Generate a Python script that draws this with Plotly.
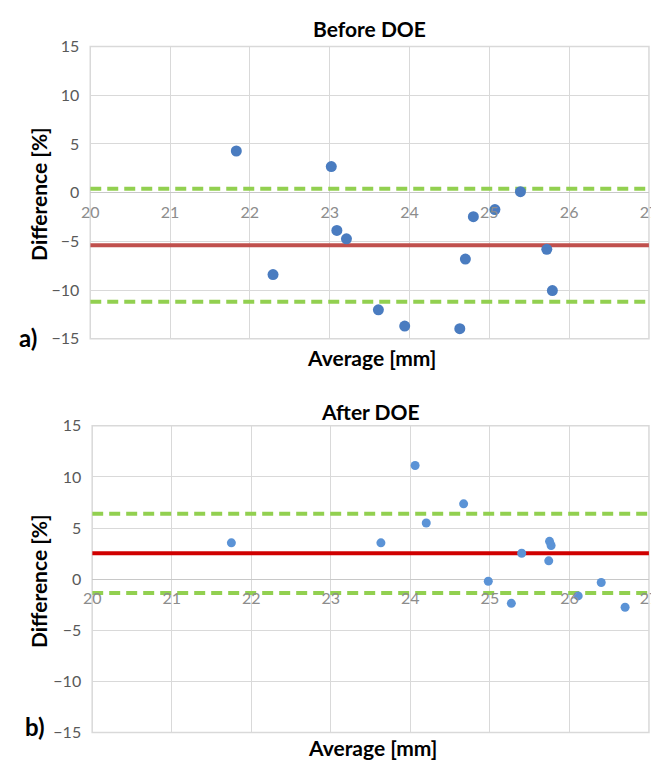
import plotly.graph_objects as go

# ---- data ----
before_avg = [21.83, 22.29, 23.02, 23.09, 23.21, 23.61, 23.94, 24.63, 24.70, 24.80, 25.07, 25.39, 25.72, 25.79]
before_diff = [4.28, -8.41, 2.68, -3.87, -4.74, -12.02, -13.69, -13.96, -6.81, -2.46, -1.73, 0.10, -5.81, -10.05]
before_mean = -5.4
before_loa = [0.4, -11.2]

after_avg = [21.75, 23.63, 24.06, 24.20, 24.67, 24.98, 25.27, 25.40, 25.75, 25.77, 25.74, 26.11, 26.40, 26.70]
after_diff = [3.55, 3.55, 11.12, 5.49, 7.37, -0.21, -2.37, 2.53, 3.70, 3.29, 1.79, -1.64, -0.33, -2.75]
after_mean = 2.53
after_loa = [6.41, -1.35]

x_ticks = [20, 21, 22, 23, 24, 25, 26, 27]
y_ticks = [-15, -10, -5, 0, 5, 10, 15]
titles = ["Before DOE", "After DOE"]
panel_labels = ["a)", "b)"]
x_title = "Average [mm]"
y_title = "Difference [%]"

FONT = "Lato, 'Open Sans', sans-serif"
W, H = 659, 762

top_x = [75.3 / W, 649.7 / W]
top_y = [1 - 329 / H, 1 - 29.3 / H]
bot_x = [77.3 / W, 649.7 / W]
bot_y = [1 - 732.7 / H, 1 - 418.3 / H]

x_span = [x_ticks[0], x_ticks[-1]]
GREEN = "#92d050"

fig = go.Figure()


def add_panel(xa, ya, mean, loa, red, avg, diff, msize, mcolor):
    for v in loa:
        fig.add_trace(go.Scatter(x=x_span, y=[v, v], mode="lines",
                                 line=dict(color=GREEN, width=4, dash="11px,6px"),
                                 xaxis=xa, yaxis=ya, showlegend=False, hoverinfo="skip"))
    fig.add_trace(go.Scatter(x=x_span, y=[mean, mean], mode="lines",
                             line=dict(color=red, width=4),
                             xaxis=xa, yaxis=ya, showlegend=False, hoverinfo="skip"))
    fig.add_trace(go.Scatter(x=avg, y=diff, mode="markers",
                             marker=dict(size=msize, color=mcolor),
                             xaxis=xa, yaxis=ya, showlegend=False, cliponaxis=False))


add_panel("x", "y", before_mean, before_loa, "#c0504d", before_avg, before_diff, 11, "#4a7cc0")
add_panel("x2", "y2", after_mean, after_loa, "#d00000", after_avg, after_diff, 9, "#5b93d6")

grid = "#d9d9d9"


def xax(dom, ydom):
    return dict(domain=dom, range=[20, 27], tickvals=x_ticks, showgrid=True,
                gridcolor=grid, gridwidth=1.3, zeroline=False, showline=False,
                anchor="free", position=(ydom[0] + ydom[1]) / 2,
                ticks="", ticklabelstandoff=8,
                tickfont=dict(family=FONT, size=16, color="#8c8c8c"),
                fixedrange=True)


def yax(dom, anchor_x):
    return dict(domain=dom, range=[-15, 15], tickvals=y_ticks, showgrid=True,
                gridcolor=grid, gridwidth=1.3, zeroline=True, zerolinecolor="#c8c8c8",
                zerolinewidth=1.3, showline=False, anchor=anchor_x,
                ticks="", ticklabelstandoff=10,
                tickfont=dict(family=FONT, size=16, color="#595959"),
                fixedrange=True)


fig.update_layout(
    width=W, height=H,
    margin=dict(l=0, r=0, t=0, b=0),
    paper_bgcolor="white", plot_bgcolor="white",
    xaxis=xax(top_x, top_y),
    yaxis=yax(top_y, "x"),
    xaxis2=xax(bot_x, bot_y),
    yaxis2=yax(bot_y, "x2"),
)

# plot-area borders
for xr, yr in [("x", "y"), ("x2", "y2")]:
    fig.add_shape(type="rect", xref=f"{xr} domain", yref=f"{yr} domain",
                  x0=0, x1=1, y0=0, y1=1, line=dict(color=grid, width=1.5),
                  layer="below")

bold = dict(family=FONT, size=21, color="black")
ann = [
    dict(text=f"<b>{titles[0]}</b>", x=0.55, y=1 - 11 / H),
    dict(text=f"<b>{titles[1]}</b>", x=0.552, y=1 - 404 / H),
    dict(text=f"<b>{x_title}</b>", x=0.553, y=1 - 348 / H),
    dict(text=f"<b>{x_title}</b>", x=0.554, y=1 - 748 / H),
    dict(text=f"<b>{y_title}</b>", x=22 / W, y=1 - 180 / H, textangle=-90),
    dict(text=f"<b>{y_title}</b>", x=22 / W, y=1 - 577 / H, textangle=-90),
]
for a in ann:
    fig.add_annotation(xref="paper", yref="paper", showarrow=False,
                       xanchor="center", yanchor="middle", font=bold, **a)

fig.add_annotation(text=f"<b>{panel_labels[0]}</b>", xref="paper", yref="paper",
                   x=11 / W, y=1 - 328 / H, showarrow=False, xanchor="center",
                   yanchor="middle", font=dict(family=FONT, size=24, color="black"))
fig.add_annotation(text=f"<b>{panel_labels[1]}</b>", xref="paper", yref="paper",
                   x=18.5 / W, y=1 - 727 / H, showarrow=False, xanchor="center",
                   yanchor="middle", font=dict(family=FONT, size=24, color="black"))

fig.write_html("out.html")
